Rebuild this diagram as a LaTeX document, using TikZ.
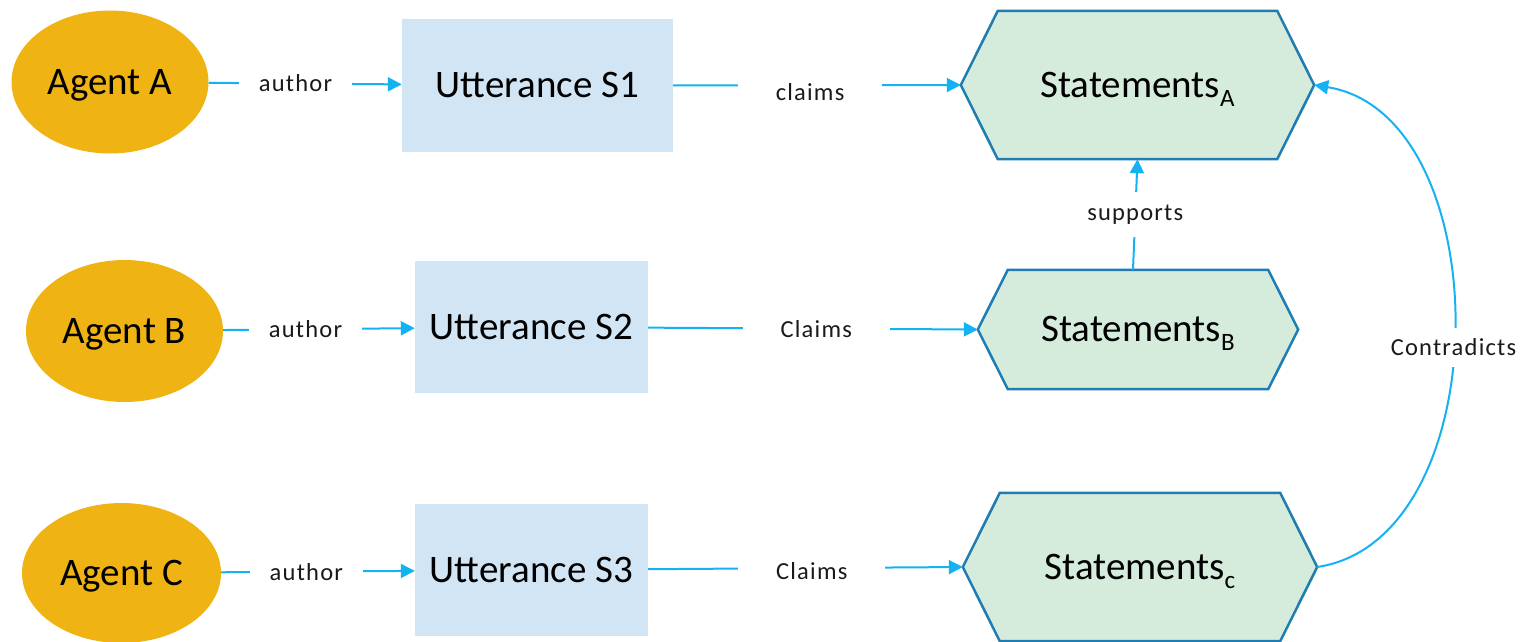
\documentclass[tikz,border=0pt]{standalone}
\usepackage{fontspec}
\setmainfont{Carlito}
\newfontfamily\lblfont{Carlito}[LetterSpace=5]
\usetikzlibrary{shapes.geometric,arrows.meta,backgrounds}
\definecolor{agentcol}{HTML}{EFB413}
\definecolor{uttcol}{HTML}{D1E5F4}
\definecolor{hexfill}{HTML}{D5EBDC}
\definecolor{hexline}{HTML}{1F7DB2}
\definecolor{conncol}{HTML}{14B2F2}
\definecolor{textcol}{HTML}{1A1A1A}
\newcommand\stsub[1]{\raisebox{-9pt}{\fontsize{25}{26}\selectfont #1}}
\begin{document}
\begin{tikzpicture}[x=1pt,y=-1pt,
  bigtext/.style={font=\fontsize{39}{40}\selectfont, text height=24.6pt, text depth=0pt},
  agent/.style={ellipse, fill=agentcol, inner sep=0pt, bigtext},
  utt/.style={rectangle, fill=uttcol, inner sep=0pt, bigtext},
  stmt/.style={rectangle, inner sep=0pt, bigtext},
  hexa/.style={fill=hexfill, draw=hexline, line width=2.5pt, line join=miter},
  conn/.style={draw=conncol, line width=2pt, -{Triangle[length=14pt,width=14pt]}},
  lbl/.style={fill=white, inner ysep=6pt, font=\lblfont\fontsize{24.5}{26}\selectfont, text=textcol},
]
\useasboundingbox (0,0) rectangle (1521,641);

% agents
\node[agent, minimum width=197pt, minimum height=143pt] (agA) at (110,82) {Agent A};
\node[agent, minimum width=197pt, minimum height=142pt] (agB) at (124.5,331) {Agent B};
\node[agent, minimum width=199pt, minimum height=140pt] (agC) at (121.5,573) {Agent C};

% utterances
\node[utt, minimum width=271pt, minimum height=133pt] (u1) at (537.5,85.5) {Utterance S1};
\node[utt, minimum width=233pt, minimum height=132pt] (u2) at (531.5,327) {Utterance S2};
\node[utt, minimum width=233pt, minimum height=132pt] (u3) at (531.5,570) {Utterance S3};

% statements
\node[stmt, minimum width=353pt, minimum height=148pt] (sa) at (1137.5,85) {Statements\stsub{A}};
\node[stmt, minimum width=320pt, minimum height=119pt] (sb) at (1138,329.5) {Statements\stsub{B}};
\node[stmt, minimum width=354pt, minimum height=148pt] (sc) at (1140,567) {Statements\stsub{c}};

\begin{scope}[on background layer]
  \draw[hexa] (sa.west) -- ([xshift=37pt]sa.north west) -- ([xshift=-37pt]sa.north east) -- (sa.east) -- ([xshift=-37pt]sa.south east) -- ([xshift=37pt]sa.south west) -- cycle;
  \draw[hexa] (sb.west) -- ([xshift=30pt]sb.north west) -- ([xshift=-30pt]sb.north east) -- (sb.east) -- ([xshift=-30pt]sb.south east) -- ([xshift=30pt]sb.south west) -- cycle;
  \draw[hexa] (sc.west) -- ([xshift=37pt]sc.north west) -- ([xshift=-37pt]sc.north east) -- (sc.east) -- ([xshift=-37pt]sc.south east) -- ([xshift=37pt]sc.south west) -- cycle;
\end{scope}

% author connectors
\draw[conn] (agA) -- (u1) node[lbl, pos=0.45, inner xsep=20pt] {author};
\draw[conn] (agB) -- (u2) node[lbl, pos=0.43, inner xsep=20pt] {author};
\draw[conn] (agC) -- (u3) node[lbl, pos=0.44, inner xsep=20pt] {author};

% claims connectors
\draw[conn] (u1) -- (sa.west) node[lbl, pos=0.476, inner xsep=38pt, yshift=-7pt] {claims};
\draw[conn] (u2) -- (sb.west) node[lbl, pos=0.51, inner xsep=38pt] {Claims};
\draw[conn] (u3) -- (sc.west) node[lbl, pos=0.52, inner xsep=38pt, yshift=-3pt] {Claims};

% supports
\draw[conn] ([xshift=-5pt]sb.north) -- (sa.south) node[lbl, pos=0.5, inner ysep=13pt] {supports};

% contradicts
\draw[conn] (sc.east) .. controls (1500,540) and (1500,115) .. (sa.east)
  node[lbl, pos=0.47, inner ysep=11pt, inner xsep=2pt] {Contradicts};
\end{tikzpicture}
\end{document}
